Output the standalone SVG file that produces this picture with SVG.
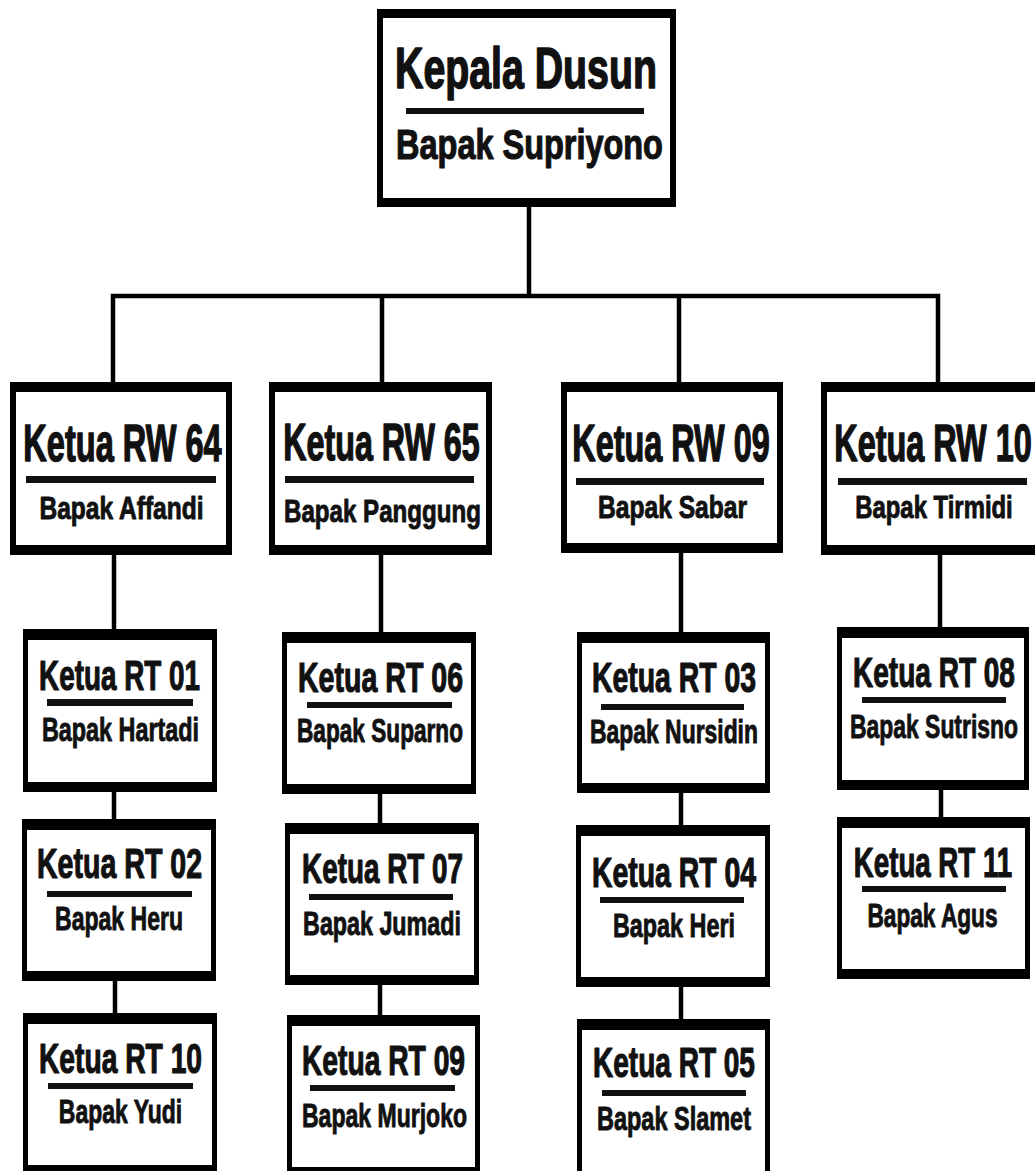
<svg xmlns="http://www.w3.org/2000/svg" width="1035" height="1171" viewBox="0 0 1035 1171">
<style>
.o{fill:#000}
.i{fill:#fff}
.u{fill:#111}
text{font-family:"Liberation Sans",Arial,sans-serif;font-weight:bold;fill:#111;stroke:#111;stroke-linejoin:round;text-anchor:middle}
.t0{font-size:57px;stroke-width:1.6px}
.n0{font-size:42px;stroke-width:1.2px}
.t1{font-size:52px;stroke-width:1.5px}
.n1{font-size:31px;stroke-width:0.9px}
.t2{font-size:42px;stroke-width:1.2px}
.n2{font-size:33px;stroke-width:0.9px}
.c{fill:none;stroke:#000;stroke-width:4.5}
</style>
<rect x="0" y="0" width="1035" height="1171" fill="#fff"/>
<g id="connectors">
<path class="c" d="M529 207V296"/>
<path class="c" d="M113 382V296H938V382M382 296V382M679 296V382"/>
<path class="c" d="M114 555V629M114 792V819M115 981V1013"/>
<path class="c" d="M381 555V632M380 794V823M380 985V1015"/>
<path class="c" d="M681 553V632M681 793V825M681 987V1019"/>
<path class="c" d="M940 555V627M941 790V817"/>
</g>
<g id="kepala-dusun">
<rect class="o" x="377" y="9" width="299" height="198"/>
<rect class="i" x="383" y="18" width="287" height="180"/>
<text class="t0" transform="translate(526 88) scale(0.689 1)">Kepala Dusun</text>
<rect class="u" x="406" y="108" width="238" height="6"/>
<text class="n0" transform="translate(529.5 159) scale(0.773 1)">Bapak Supriyono</text>
</g>
<g id="rw64">
<rect class="o" x="10" y="382" width="222" height="173"/>
<rect class="i" x="16" y="392" width="210" height="153"/>
<text class="t1" transform="translate(122.5 461) scale(0.626 1)">Ketua RW 64</text>
<rect class="u" x="26" y="476" width="190" height="7"/>
<text class="n1" transform="translate(121.5 519) scale(0.792 1)">Bapak Affandi</text>
</g>
<g id="rw65">
<rect class="o" x="269" y="382" width="223" height="173"/>
<rect class="i" x="275" y="392" width="211" height="153"/>
<text class="t1" transform="translate(381.5 460) scale(0.62 1)">Ketua RW 65</text>
<rect class="u" x="285" y="476" width="189" height="7"/>
<text class="n1" transform="translate(382.5 522) scale(0.778 1)">Bapak Panggung</text>
</g>
<g id="rw09">
<rect class="o" x="561" y="382" width="222" height="171"/>
<rect class="i" x="567" y="392" width="210" height="151"/>
<text class="t1" transform="translate(671 461) scale(0.623 1)">Ketua RW 09</text>
<rect class="u" x="576" y="478" width="188" height="7"/>
<text class="n1" transform="translate(672.5 518) scale(0.793 1)">Bapak Sabar</text>
</g>
<g id="rw10">
<rect class="o" x="821" y="382" width="224" height="173"/>
<rect class="i" x="827" y="392" width="212" height="153"/>
<text class="t1" transform="translate(933 461) scale(0.623 1)">Ketua RW 10</text>
<rect class="u" x="838" y="478" width="189" height="7"/>
<text class="n1" transform="translate(934 518) scale(0.771 1)">Bapak Tirmidi</text>
</g>
<g id="rt01">
<rect class="o" x="23" y="629" width="194" height="163"/>
<rect class="i" x="28" y="640" width="184" height="142"/>
<text class="t2" transform="translate(119.5 690) scale(0.663 1)">Ketua RT 01</text>
<rect class="u" x="47" y="699" width="146" height="7"/>
<text class="n2" transform="translate(120.5 741) scale(0.708 1)">Bapak Hartadi</text>
</g>
<g id="rt02">
<rect class="o" x="22" y="819" width="194" height="162"/>
<rect class="i" x="27" y="830" width="184" height="141"/>
<text class="t2" transform="translate(119.5 878) scale(0.68 1)">Ketua RT 02</text>
<rect class="u" x="47" y="891" width="145" height="6"/>
<text class="n2" transform="translate(119 930) scale(0.698 1)">Bapak Heru</text>
</g>
<g id="rt10">
<rect class="o" x="23" y="1013" width="194" height="163"/>
<rect class="i" x="28" y="1024" width="184" height="141"/>
<text class="t2" transform="translate(120.5 1073) scale(0.672 1)">Ketua RT 10</text>
<rect class="u" x="48" y="1083" width="145" height="6"/>
<text class="n2" transform="translate(120.5 1123) scale(0.696 1)">Bapak Yudi</text>
</g>
<g id="rt06">
<rect class="o" x="282" y="632" width="194" height="162"/>
<rect class="i" x="287" y="643" width="184" height="141"/>
<text class="t2" transform="translate(380.5 692) scale(0.68 1)">Ketua RT 06</text>
<rect class="u" x="307" y="702" width="145" height="6"/>
<text class="n2" transform="translate(380 742) scale(0.686 1)">Bapak Suparno</text>
</g>
<g id="rt07">
<rect class="o" x="285" y="823" width="194" height="162"/>
<rect class="i" x="290" y="834" width="184" height="141"/>
<text class="t2" transform="translate(382.5 883) scale(0.663 1)">Ketua RT 07</text>
<rect class="u" x="309" y="894" width="144" height="6"/>
<text class="n2" transform="translate(382 935) scale(0.706 1)">Bapak Jumadi</text>
</g>
<g id="rt09">
<rect class="o" x="287" y="1015" width="193" height="163"/>
<rect class="i" x="292" y="1026" width="183" height="141"/>
<text class="t2" transform="translate(383.5 1075) scale(0.672 1)">Ketua RT 09</text>
<rect class="u" x="310" y="1085" width="145" height="6"/>
<text class="n2" transform="translate(384.5 1127) scale(0.698 1)">Bapak Murjoko</text>
</g>
<g id="rt03">
<rect class="o" x="577" y="632" width="193" height="161"/>
<rect class="i" x="582" y="643" width="183" height="140"/>
<text class="t2" transform="translate(674 692) scale(0.676 1)">Ketua RT 03</text>
<rect class="u" x="601" y="704" width="143" height="6"/>
<text class="n2" transform="translate(674 743) scale(0.694 1)">Bapak Nursidin</text>
</g>
<g id="rt04">
<rect class="o" x="576" y="825" width="194" height="162"/>
<rect class="i" x="581" y="836" width="184" height="141"/>
<text class="t2" transform="translate(674 887) scale(0.676 1)">Ketua RT 04</text>
<rect class="u" x="600" y="897" width="144" height="6"/>
<text class="n2" transform="translate(674 937) scale(0.708 1)">Bapak Heri</text>
</g>
<g id="rt05">
<rect class="o" x="577" y="1019" width="193" height="163"/>
<rect class="i" x="582" y="1030" width="183" height="141"/>
<text class="t2" transform="translate(674 1077) scale(0.667 1)">Ketua RT 05</text>
<rect class="u" x="602" y="1090" width="144" height="6"/>
<text class="n2" transform="translate(674 1130) scale(0.712 1)">Bapak Slamet</text>
</g>
<g id="rt08">
<rect class="o" x="837" y="627" width="192" height="163"/>
<rect class="i" x="842" y="638" width="182" height="142"/>
<text class="t2" transform="translate(934 687) scale(0.667 1)">Ketua RT 08</text>
<rect class="u" x="862" y="697" width="144" height="6"/>
<text class="n2" transform="translate(934 738) scale(0.694 1)">Bapak Sutrisno</text>
</g>
<g id="rt11">
<rect class="o" x="837" y="817" width="193" height="162"/>
<rect class="i" x="842" y="828" width="183" height="141"/>
<text class="t2" transform="translate(933 877) scale(0.659 1)">Ketua RT 11</text>
<rect class="u" x="862" y="886" width="144" height="6"/>
<text class="n2" transform="translate(932.5 927) scale(0.687 1)">Bapak Agus</text>
</g>
</svg>
